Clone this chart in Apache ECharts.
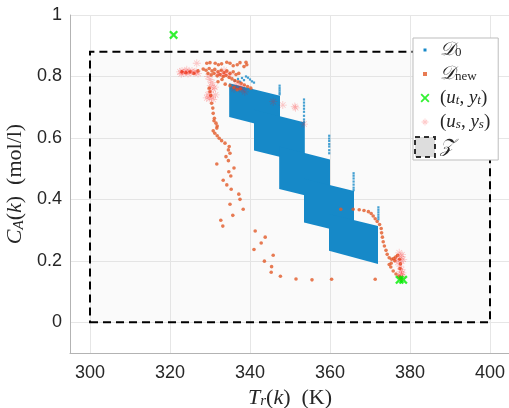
<!DOCTYPE html>
<html>
<head>
<meta charset="utf-8">
<script src="https://cdn.jsdelivr.net/npm/echarts@6/dist/echarts.min.js"></script>
<style>html,body{margin:0;padding:0;background:#fff;}#c{width:509px;height:408px;}</style>
</head>
<body>
<div id="c"></div>
<script>
// ---- tick labels ----
const xTicks = [300, 320, 340, 360, 380, 400];
const yTicks = [0, 0.2, 0.4, 0.6, 0.8, 1];

// ---- safe zone Z ----
const zoneX = [300, 400];
const zoneY = [0, 0.88];

// ---- D0 operating blocks (dense clouds) ----
const blockLeft        = [334.8, 341.0, 347.3, 353.5, 359.75];
const blockRight       = [347.5, 353.7, 360.0, 366.0, 372.0];
const blockTopLeft     = [0.778, 0.692, 0.572, 0.467, 0.352];
const blockTopRight    = [0.737, 0.650, 0.530, 0.427, 0.313];
const blockBottomRight = [0.626, 0.518, 0.393, 0.285, 0.190];
const blockBottomLeft  = [0.668, 0.559, 0.434, 0.325, 0.233];

// ---- D0 isolated points (spikes and scatter) ----
const d0Points = [
  [336.2,0.786],[337,0.792],[338,0.795],[339,0.800],[339.5,0.796],[338.5,0.788],[340,0.790],[340.5,0.784],[341,0.780],[337.5,0.783],
  [347.4,0.770],[347.4,0.762],[347.4,0.755],[347.4,0.748],[347.4,0.742],
  [353.5,0.725],[353.5,0.715],[353.5,0.705],[353.5,0.695],[353.5,0.685],[353.5,0.672],[353.5,0.660],[353.5,0.652],
  [359.8,0.607],[359.8,0.598],[359.8,0.590],[359.8,0.580],[359.8,0.572],[359.8,0.560],[359.8,0.550],
  [365.9,0.485],[365.9,0.477],[365.9,0.468],[365.9,0.458],[365.9,0.448],[365.9,0.438],[365.9,0.430],
  [372.1,0.374],[372.1,0.366],[372.1,0.358],[372.1,0.350],[372.1,0.342],[372.1,0.335]
];

// ---- D_new ----
const dNew = [
  [329.2,0.843],[330,0.845],[331.3,0.843],[332.1,0.838],[332.9,0.841],[334.2,0.846],[335,0.843],[335.8,0.835],[336.8,0.838],[337.5,0.845],[338.5,0.832],[339,0.846],[339.2,0.838],
  [328.3,0.824],[329,0.820],[329.8,0.826],[330.5,0.818],[331.2,0.823],[332,0.815],[332.8,0.820],[333.5,0.812],[334.2,0.818],[335,0.810],[335.8,0.815],[336.5,0.806],[337.2,0.810],
  [329.5,0.810],[330.3,0.805],[331,0.810],[331.8,0.802],[332.5,0.806],[333.3,0.800],[334,0.803],[334.8,0.797],[335.5,0.792],[336.2,0.787],[337,0.783],[337.8,0.778],[338.6,0.772],[339.4,0.767],[340.2,0.762],
  [333,0.790],[332,0.783],[333.8,0.775],[335,0.770],[336,0.764],[336.8,0.757],[337.6,0.760],
  [323,0.815],[324,0.812],[325,0.815],[326,0.810],[327,0.818],
  [329.8,0.762],[330,0.750],[330.2,0.738],[330.4,0.713],[330.7,0.697],[330.8,0.680],[331.1,0.664],[331,0.656],[331.5,0.648],[331.8,0.639],[331.7,0.632],[330.8,0.623],[331.2,0.615],[331.8,0.607],[332.3,0.599],[332.9,0.591],[333.75,0.583],[334.8,0.572],[334.6,0.561],[335,0.550],[334,0.539],[334.6,0.526],[331.7,0.515],[336,0.502],[334.7,0.490],[335.2,0.476],[333.3,0.462],[334.2,0.447],[335.3,0.433],[337.2,0.417],[337.5,0.400],[335,0.384],[338.3,0.368],[335.7,0.348],[332.7,0.332],[333.2,0.313],[341.3,0.297],[343.8,0.277],[342.8,0.258],[341,0.237],[345.8,0.218],[343.6,0.199],[345.4,0.181],[345.3,0.163],[347.6,0.150],[351.5,0.141],[355.5,0.138],[360.4,0.140],[371.3,0.140],
  [362.7,0.368],[365.8,0.368],[367.3,0.366],[368.5,0.364],[369.6,0.360],[370.3,0.354],[370.8,0.346],[371.3,0.337],[371.8,0.328],[372.4,0.318],[372.8,0.305],[372.9,0.291],[373.1,0.277],[373.3,0.262],[373.6,0.248],[374,0.234],[374.3,0.221],[374.8,0.210],[375.4,0.205],[375.9,0.207],[376.4,0.212],[376.9,0.218],
  [376.2,0.200],[375.3,0.192],[374.8,0.188],[375.2,0.180],[375.8,0.167],[376.5,0.157],[377.2,0.150],[377.6,0.145],[377.8,0.140],[377.5,0.175],[377.6,0.190],[377.4,0.205]
];

// ---- (u_s, y_s) ----
const usys = [
  [322.5,0.815],[323,0.818],[323.5,0.812],[324,0.816],[324.5,0.810],[325,0.814],[325.5,0.818],[326,0.812],[326.5,0.815],[327,0.810],[322.8,0.808],[324.2,0.822],
  [326.7,0.843],
  [329.5,0.800],[330,0.790],[330.5,0.780],[330.2,0.770],[330.8,0.760],[331.2,0.765],[330,0.750],[329.5,0.740],[329.2,0.730],[329.8,0.728],[330.4,0.733],[330.8,0.725],[331.4,0.740],
  [332,0.810],[333,0.805],[334,0.810],[335,0.805],[333.5,0.820],
  [336.5,0.775],[337.2,0.765],[338,0.758],[338.7,0.750],[337.8,0.770],[336,0.760],
  [345.8,0.718],[348.2,0.707],[351.2,0.702],[351.4,0.698],[353.5,0.645],
  [377.3,0.226],[377.7,0.214],[377.9,0.199],[377.5,0.183],[377.9,0.172],[378.1,0.161],[377.8,0.150],[378,0.148],[376.6,0.205],[377,0.195],[378.3,0.205],[378,0.220],[377.6,0.165],[377.9,0.155]
];

// ---- (u_t, y_t) ----
const utyt = [[320.9,0.935],[377.4,0.138],[378.3,0.138]];

const BLUE = '#1689c8', ORANGE = '#e25a28', GREEN = '#00ee00';
const starPath = 'path://M4.5 0h1v10h-1z M0 4.5h10v1h-10z M1.2 1.9L1.9 1.2L8.8 8.1L8.1 8.8Z M8.1 1.2L8.8 1.9L1.9 8.8L1.2 8.1Z';
const xPath = 'path://M0 1.8L1.8 0L5 3.2L8.2 0L10 1.8L6.8 5L10 8.2L8.2 10L5 6.8L1.8 10L0 8.2L3.2 5Z';

const blockData = blockLeft.map((l, i) => [l, blockRight[i], blockTopLeft[i], blockTopRight[i], blockBottomRight[i], blockBottomLeft[i]]);

const serif = 'Liberation Serif';
const TXT = '#262626';
function richSet(big, small) {
  return {
    d: {fontFamily: serif, fontStyle: 'italic', fontSize: big, color: TXT},
    i: {fontFamily: serif, fontStyle: 'italic', fontSize: big, color: TXT},
    n: {fontFamily: serif, fontSize: big, color: TXT},
    s: {fontFamily: serif, fontStyle: 'italic', fontSize: small, color: TXT, verticalAlign: 'bottom', lineHeight: small + 1},
    sn: {fontFamily: serif, fontSize: small, color: TXT, verticalAlign: 'bottom', lineHeight: small + 1}
  };
}
const legendRich = richSet(19, 13);
const axisRich = richSet(22, 15);
const legendText = {
  D0: '{d|𝒟}{sn|0}',
  Dnew: '{d|𝒟}{sn|new}',
  ut: '{n|(}{i|u}{s|t}{n|, }{i|y}{s|t}{n|)}',
  us: '{n|(}{i|u}{s|s}{n|, }{i|y}{s|s}{n|)}',
  Z: '{d|𝒵}'
};

const chart = echarts.init(document.getElementById('c'), null, {renderer: 'canvas'});
chart.setOption({
  animation: false,
  backgroundColor: '#fff',
  grid: {left: 70, top: 15, right: -1, bottom: 55, containLabel: false, outerBoundsMode: 'none'},
  xAxis: {
    type: 'value', min: 295, max: 405,
    axisLine: {onZero: false, lineStyle: {color: '#b3b3b3', width: 1}},
    axisTick: {show: false, customValues: xTicks},
    axisLabel: {customValues: xTicks, color: TXT, fontFamily: 'Liberation Sans', fontSize: 18, margin: 11},
    splitLine: {show: true, lineStyle: {color: '#e6e6e6', width: 1}},
    name: '{i|T}{s|r}{n|(}{i|k}{n|)  (K)}', nameLocation: 'middle', nameGap: 33,
    nameTextStyle: {rich: axisRich}
  },
  yAxis: {
    type: 'value', min: -0.1, max: 1,
    axisLine: {onZero: false, lineStyle: {color: '#b3b3b3', width: 1}},
    axisTick: {show: false, customValues: yTicks},
    axisLabel: {customValues: yTicks, color: TXT, fontFamily: 'Liberation Sans', fontSize: 18, margin: 8},
    splitLine: {show: true, lineStyle: {color: '#e6e6e6', width: 1}},
    name: '{i|C}{s|A}{n|(}{i|k}{n|)  (mol/l)}', nameLocation: 'middle', nameGap: 31,
    nameTextStyle: {rich: axisRich}
  },
  legend: {
    orient: 'vertical', left: 413, top: 38,
    padding: [2, 8, 2, 1], itemGap: 4, itemWidth: 20, itemHeight: 20,
    backgroundColor: '#fff', borderColor: '#bdbdbd', borderWidth: 1,
    formatter: n => legendText[n],
    textStyle: {rich: legendRich},
    data: [
      {name: 'D0', icon: 'path://M0 0M20 20M8.5 8.5h3v3h-3z'},
      {name: 'Dnew', icon: 'path://M0 0M20 20M8 8h4v4h-4z'},
      {name: 'ut', icon: 'path://M0 0M20 20M5.5 6.8L6.8 5.5L10 8.7L13.2 5.5L14.5 6.8L11.3 10L14.5 13.2L13.2 14.5L10 11.3L6.8 14.5L5.5 13.2L8.7 10Z'},
      {name: 'us', icon: 'path://M0 0M20 20M9.6 6.5h0.8v7h-0.8z M6.5 9.6h7v0.8h-7z M7.6 8.2L8.2 7.6L12.4 11.8L11.8 12.4Z M11.8 7.6L12.4 8.2L8.2 12.4L7.6 11.8Z'},
      {name: 'Z', icon: 'rect', itemStyle: {color: '#d4d4d4', borderColor: '#000', borderWidth: 2, borderType: [5, 4]}}
    ]
  },
  series: [
    {
      name: 'Z', type: 'scatter', data: [], z: 1,
      itemStyle: {color: '#d4d4d4'},
      markArea: {
        silent: true, label: {show: false},
        itemStyle: {color: 'rgba(215,215,215,0.12)', borderColor: '#000', borderWidth: 2, borderType: [8, 5]},
        data: [[{coord: [zoneX[0], zoneY[0]]}, {coord: [zoneX[1], zoneY[1]]}]]
      }
    },
    {
      name: 'D0', type: 'custom', z: 2,
      itemStyle: {color: BLUE},
      dimensions: ['xl', 'xr', 'ytl', 'ytr', 'ybr', 'ybl'],
      encode: {x: [0, 1], y: [2, 3, 4, 5]},
      data: blockData,
      renderItem: function (params, api) {
        const xl = api.value(0), xr = api.value(1);
        const pts = [
          api.coord([xl, api.value(2)]), api.coord([xr, api.value(3)]),
          api.coord([xr, api.value(4)]), api.coord([xl, api.value(5)])
        ];
        return {type: 'polygon', shape: {points: pts}, style: {fill: api.visual('color')}};
      }
    },
    {name: 'D0', type: 'scatter', z: 3, data: d0Points, symbol: 'rect', symbolSize: 2.2, itemStyle: {color: BLUE}},
    {name: 'Dnew', type: 'scatter', z: 4, data: dNew, symbol: 'circle', symbolSize: 3.6, itemStyle: {color: ORANGE}},
    {name: 'ut', type: 'scatter', z: 6, data: utyt, symbol: xPath, symbolSize: 9, itemStyle: {color: GREEN}},
    {name: 'us', type: 'scatter', z: 5, data: usys, symbol: starPath, symbolSize: 8, itemStyle: {color: 'rgba(255,20,20,0.28)'}}
  ]
});
</script>
</body>
</html>
